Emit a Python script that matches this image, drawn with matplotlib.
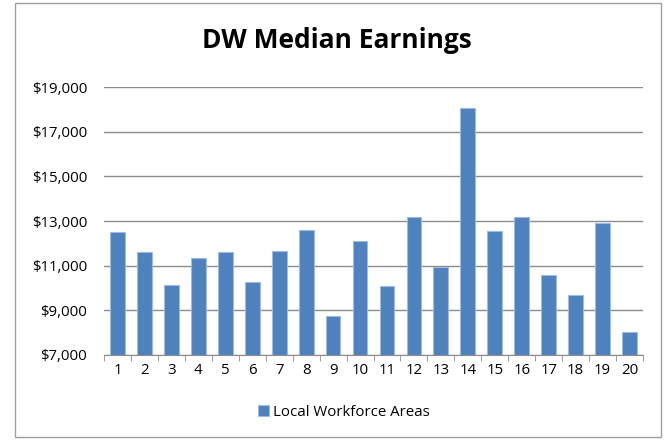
import matplotlib
matplotlib.use("Agg")
import matplotlib.pyplot as plt
from matplotlib.patches import Rectangle
from matplotlib.ticker import FuncFormatter, FixedLocator
import numpy as np

categories = [str(i) for i in range(1, 21)]
earnings = [12490, 11610, 10130, 11360, 11600, 10270, 11660, 12610, 8730, 12090,
            10090, 13160, 10940, 18060, 12570, 13160, 10580, 9670, 12900, 8010]
series_name = "Local Workforce Areas"
title = "DW Median Earnings"
yticks = [7000, 9000, 11000, 13000, 15000, 17000, 19000]

plt.rcParams['font.family'] = ['Open Sans', 'DejaVu Sans']

fig = plt.figure(figsize=(6.69, 4.40), dpi=100)
fig.patch.set_facecolor('white')
fig.patches.append(Rectangle((15/669, 3/440), 646/669, 434/440, transform=fig.transFigure,
                             fill=False, edgecolor='#A0A0A0', linewidth=1))

ax = fig.add_axes([104/669, 1-355/440, 539/669, 268/440])
x = np.arange(len(categories))
bars = ax.bar(x, np.array(earnings) - 7000, bottom=7000, width=0.55, color='#4F81BD',
              edgecolor='#9DBBE0', linewidth=0.8, label=series_name, zorder=3)
ax.set_ylim(7000, 19000)
ax.set_xlim(-0.5, len(categories) - 0.5)
ax.set_yticks(yticks)
ax.yaxis.set_major_formatter(FuncFormatter(lambda v, p: "${:,.0f}".format(v)))
ax.yaxis.grid(True, color='#8C8C8C', linewidth=1, zorder=0)
ax.tick_params(axis='y', length=0, labelsize=10.8, pad=12)
ax.set_xticks(x)
ax.set_xticklabels(categories)
ax.tick_params(axis='x', which='major', length=0, labelsize=10.8, pad=6)
ax.xaxis.set_minor_locator(FixedLocator(np.arange(-0.5, len(categories), 1)))
ax.tick_params(axis='x', which='minor', length=4, color='#8C8C8C', direction='out')
for s in ['top', 'right', 'left']:
    ax.spines[s].set_visible(False)
ax.spines['bottom'].set_color('#8C8C8C')

fig.text(337/669, 1-40/440, title, ha='center', va='center', fontsize=19, fontweight='bold')
fig.legend(handles=[bars], labels=[series_name], loc='center', bbox_to_anchor=(344/669, 1-412/440),
           frameon=False, fontsize=10.8, handlelength=0.7, handleheight=0.7, handletextpad=0.3)

fig.savefig('out.png', dpi=100)
